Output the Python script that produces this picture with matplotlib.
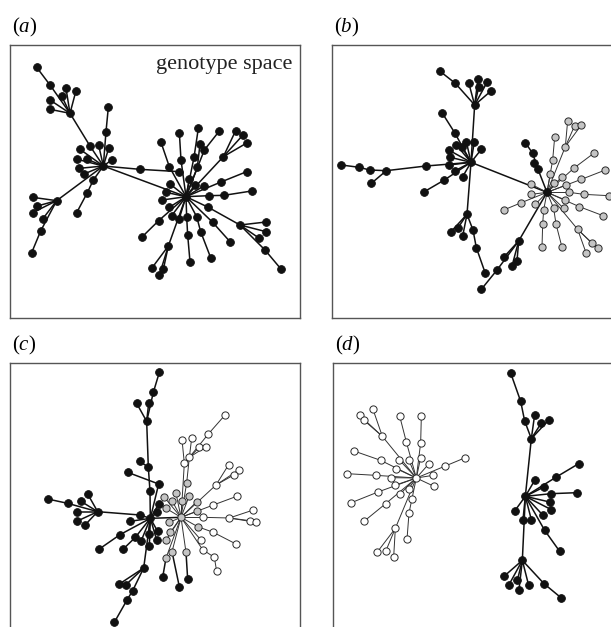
import matplotlib
matplotlib.use("Agg")
import matplotlib.pyplot as plt
from matplotlib.collections import LineCollection

plt.rcParams["font.family"] = ["Liberation Serif", "DejaVu Serif"]
plt.rcParams["mathtext.fontset"] = "custom"
plt.rcParams["mathtext.it"] = "Liberation Serif:italic"
plt.rcParams["mathtext.rm"] = "Liberation Serif"

# layout coordinates of the genotype networks (one tree per list, parent = index, -1 = root)
a_x = [310, 558, 420, 538, 270, 210, 150, 110, 150, 150, 185, 198, 228, 318, 325, 296, 326,
       240, 232, 262, 335, 238, 252, 280, 262, 230, 170, 98, 112, 98, 128, 122, 95,
       543, 538, 508, 483, 582, 595, 592, 600, 613, 658, 670, 707, 728, 742, 663, 740,
       628, 672, 755, 568, 585, 613, 510, 498, 487, 508, 515, 537, 560, 563, 570, 590,
       602, 632, 625, 720, 798, 798, 778, 795, 842, 638, 690, 476, 425, 505, 455, 478, 490]
a_y = [408, 500, 418, 425, 348, 250, 165, 112, 210, 238, 198, 175, 182, 305, 232, 346, 355,
       358, 388, 388, 390, 415, 432, 450, 488, 548, 512, 502, 528, 548, 567, 603, 668,
       390, 308, 410, 337, 382, 295, 412, 342, 360, 303, 380, 302, 316, 338, 456, 425,
       497, 496, 483, 448, 465, 467, 462, 487, 510, 532, 557, 568, 560, 615, 695, 560,
       605, 683, 532, 585, 576, 605, 625, 660, 716, 577, 635, 572, 622, 648, 715, 735, 718]
a_parent = [-1, 0, 0, 2, 0, 4, 5, 6, 5, 5, 5, 5, 5, 0, 13, 0, 0,
            0, 0, 0, 0, 0, 0, 0, 23, 24, 0, 26, 26, 26, 26, 26, 31,
            1, 33, 1, 35, 1, 37, 1, 39, 1, 41, 1, 43, 43, 43, 1, 47,
            1, 49, 50, 1, 1, 1, 1, 1, 1, 1, 1, 1, 1, 61, 62, 1,
            64, 65, 1, 67, 68, 68, 68, 68, 72, 1, 74, 1, 76, 1, 78, 78, 78]
a_kind = "k" * 82

b_x = [497, 725, 508, 450, 403, 490, 518, 545, 520, 558, 448, 410, 483, 507, 453, 470, 430,
       528, 435, 430, 448, 472, 417, 357, 362, 243, 193, 162, 108, 198, 485, 437, 457,
       472, 503, 513, 540, 698, 682, 660, 685, 640, 595, 620, 635, 575, 528,
       780, 787, 808, 828, 742, 748, 805, 865, 828, 900, 770, 735, 745, 783, 792, 835,
       910, 678, 678, 690, 648, 595, 715, 712, 710, 745, 752, 770, 775, 780, 822, 893,
       817, 860, 877, 842]
b_y = [397, 487, 225, 160, 123, 158, 147, 157, 172, 182, 308, 248, 335, 335, 345, 352, 360,
       358, 382, 405, 423, 440, 450, 485, 408, 422, 420, 412, 405, 460, 553, 605, 595,
       618, 600, 653, 730, 418, 370, 338, 400, 633, 682, 708, 693, 720, 778,
       350, 272, 287, 285, 390, 322, 415, 370, 448, 420, 440, 432, 458, 465, 487, 493,
       497, 463, 493, 523, 518, 540, 540, 582, 652, 535, 582, 652, 535, 510, 530, 557,
       598, 640, 655, 668]
b_parent = [-1, 0, 0, 2, 3, 2, 2, 2, 2, 2, 0, 10, 0, 0, 0, 0, 0,
            0, 0, 0, 0, 0, 0, 22, 0, 24, 25, 26, 27, 25, 0, 30, 30,
            30, 30, 34, 35, 1, 37, 38, 37, 1, 41, 41, 41, 41, 45,
            1, 47, 47, 47, 1, 51, 1, 53, 1, 55, 1, 1, 1, 1, 1, 61,
            62, 1, 1, 1, 1, 67, 1, 69, 70, 1, 72, 73, 1, 1, 1, 77,
            1, 79, 79, 79]
b_kind = "k" * 47 + "g" * 36

c_x = [545, 453, 452, 447, 422, 442, 462, 480, 412, 448, 478, 385, 478, 472, 422, 295, 205,
       145, 245, 265, 232, 232, 258, 392, 362, 300, 408, 372, 425, 448, 475, 472, 450,
       433, 360, 380, 400, 383, 345,
       562, 530, 570, 495, 518, 548, 592, 592, 500, 510, 513, 500, 595, 518, 560, 500,
       490, 540, 565,
       570, 577, 600, 620, 627, 678, 555, 548, 650, 688, 718, 705, 642, 712, 612, 690,
       762, 752, 770, 642, 710, 605, 610, 645, 652]
c_y = [560, 563, 482, 410, 392, 272, 185, 125, 218, 218, 460, 425, 520, 545, 553, 543, 518,
       505, 512, 490, 543, 572, 582, 572, 612, 655, 620, 655, 632, 610, 602, 628, 645,
       712, 760, 762, 780, 808, 875,
       457, 488, 495, 500, 510, 510, 513, 542, 533, 575, 605, 628, 588, 663, 665, 682,
       740, 768, 745,
       380, 323, 350, 348, 310, 252, 398, 327, 463, 402, 418, 432, 523, 497, 560, 562,
       538, 570, 575, 605, 640, 628, 657, 680, 722]
c_parent = [-1, 0, 1, 2, 3, 3, 5, 6, 5, 5, 1, 10, 1, 1, 1, 14, 15,
            16, 15, 15, 15, 15, 15, 1, 1, 24, 1, 26, 1, 1, 1, 1, 1,
            1, 33, 33, 33, 36, 37,
            0, 0, 0, 0, 0, 0, 0, 0, 0, 0, 0, 0, 0, 0, 0, 0,
            54, 52, 53,
            39, 58, 58, 58, 58, 62, 0, 64, 0, 66, 66, 66, 0, 70, 0, 72,
            73, 73, 73, 51, 77, 0, 0, 80, 81]
c_kind = "g" + "k" * 38 + "g" * 16 + "k" * 3 + "w" * 25

d_x = [335, 233, 205, 165, 178, 305, 285, 348, 350, 228, 148, 283, 312, 348, 373, 275, 385,
       388, 260, 270, 285, 213, 127, 422, 482, 220, 140, 243, 178, 322, 313, 307, 272,
       218, 243, 267, 312,
       662, 680, 660, 648, 618, 690, 710, 733, 755, 822, 690, 718, 740, 818, 735, 740,
       715, 680, 655, 630, 720, 765, 653, 598, 612, 638, 643, 672, 718, 770]
d_y = [443, 318, 237, 255, 270, 335, 257, 337, 258, 390, 362, 388, 388, 382, 400, 415, 435,
       468, 442, 465, 492, 435, 430, 407, 382, 485, 517, 520, 573, 505, 548, 627, 594,
       665, 663, 680, 475,
       498, 325, 272, 213, 128, 253, 278, 268, 440, 400, 450, 470, 490, 487, 515, 538,
       555, 568, 568, 542, 600, 663, 690, 738, 765, 750, 778, 765, 760, 803]
d_parent = [-1, 0, 1, 1, 1, 0, 5, 0, 7, 0, 9, 0, 0, 0, 0, 0, 0,
            0, 0, 0, 0, 0, 21, 0, 23, 0, 25, 0, 27, 0, 29, 30, 0,
            32, 32, 32, 0,
            -1, 37, 38, 39, 40, 38, 38, 38, 37, 45, 37, 37, 37, 49, 37, 37,
            37, 37, 37, 37, 37, 57, 37, 59, 59, 59, 59, 59, 59, 65]
d_kind = "w" * 37 + "k" * 30

panels = [
    ("a", a_x, a_y, a_parent, a_kind),
    ("b", b_x, b_y, b_parent, b_kind),
    ("c", c_x, c_y, c_parent, c_kind),
    ("d", d_x, d_y, d_parent, d_kind),
]

# panel frames in layout units: x0, x1, y0, y1
frames = {"a": (30, 900, 45, 864), "b": (80, 950, 45, 864),
          "c": (32, 902, 97, 916), "d": (85, 955, 98, 917)}

W, H = 611, 627
fig = plt.figure(figsize=(W / 100, H / 100), dpi=100)

# axes boxes in pixels: left, top
boxes = {"a": (10, 45), "b": (332, 45), "c": (10, 363), "d": (333, 363)}
box_w, box_h = 290, 273

node_style = {
    "k": dict(mfc="#111111", mec="#111111", ms=5.6, mew=0.6),
    "g": dict(mfc="#c4c4c4", mec="#2a2a2a", ms=5.2, mew=0.7),
    "w": dict(mfc="white", mec="#2a2a2a", ms=5.2, mew=0.7),
}

for name, xs, ys, parents, kinds in panels:
    left, top = boxes[name]
    ax = fig.add_axes([left / W, 1 - (top + box_h) / H, box_w / W, box_h / H])
    x0, x1, y0, y1 = frames[name]
    ax.set_xlim(x0, x1)
    ax.set_ylim(y1, y0)
    ax.set_xticks([])
    ax.set_yticks([])
    for sp in ax.spines.values():
        sp.set_color("#555555")
        sp.set_linewidth(1.0)

    # edges, drawn from each node to its parent
    for kind, col, lw in [("k", "#111111", 1.1), ("g", "#333333", 0.7), ("w", "#333333", 0.7)]:
        segs = [[(xs[i], ys[i]), (xs[p], ys[p])]
                for i, p in enumerate(parents) if p >= 0 and kinds[i] == kind]
        if segs:
            ax.add_collection(LineCollection(segs, colors=col, linewidths=lw, zorder=1))

    for kind in "wgk":
        px = [x for x, k in zip(xs, kinds) if k == kind]
        py = [y for y, k in zip(ys, kinds) if k == kind]
        if px:
            ax.plot(px, py, "o", ls="none", zorder=2, **node_style[kind])

    fig.text((left + 2) / W, 1 - (top - 18) / H, f"($\\mathit{{{name}}}$)",
             fontsize=15, ha="left", va="center")

    if name == "a":
        ax.text(0.975, 0.965, "genotype space", transform=ax.transAxes,
                fontsize=16, ha="right", va="top", color="#222222")

fig.savefig("out.png", dpi=100)
